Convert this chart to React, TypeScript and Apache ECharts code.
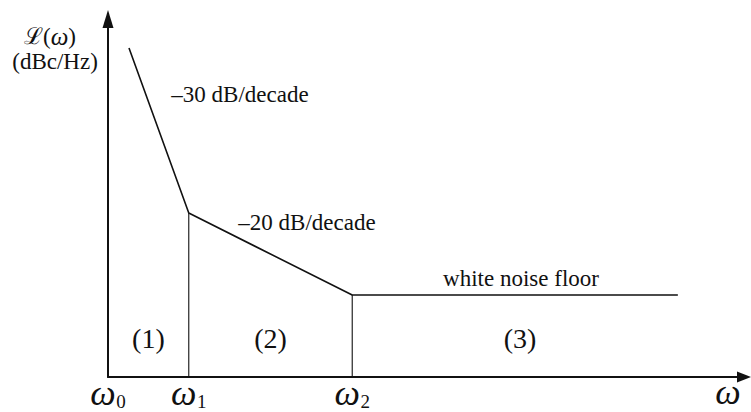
import React, { useEffect, useRef } from "react";
import * as echarts from "echarts";

// Piecewise phase-noise asymptote (arbitrary log-frequency / dB units)
const cornerX = [3.3, 12.7, 38.4, 89.6];
const levelY = [91.9, 45.8, 22.9, 22.9];

// Corner frequencies marked on the frequency axis
const tickValues = [0, 12.7, 38.4];
const tickSubs = ["0", "1", "2"];

// Region and slope annotations
const regionNames = ["(1)", "(2)", "(3)"];
const regionBounds = [0, 12.7, 38.4, 91.2];
const slopeNames = ["–30 dB/decade", "–20 dB/decade", "white noise floor"];

const SERIF = "'Liberation Serif', 'Times New Roman', serif";
const INK = "#111";

export default function App() {
  const ref = useRef<HTMLDivElement>(null);

  useEffect(() => {
    document.body.style.margin = "0";
    if (!ref.current) return;
    const chart = echarts.init(ref.current, undefined, { renderer: "svg" });

    const curve = cornerX.map((x, i) => [x, levelY[i]]);
    const drop1 = [
      [cornerX[1], 0],
      [cornerX[1], levelY[1]],
    ];
    const drop2 = [
      [cornerX[2], 0],
      [cornerX[2], levelY[2]],
    ];

    chart.setOption({
      animation: false,
      backgroundColor: "#fff",
      grid: { left: 108, right: 7, top: 19, bottom: 35, outerBoundsMode: "none" },
      xAxis: {
        type: "value",
        min: 0,
        max: 100,
        axisLine: {
          show: true,
          symbol: ["none", "triangle"],
          symbolSize: [11, 14],
          lineStyle: { color: INK, width: 2 },
        },
        axisTick: { show: false },
        splitLine: { show: false },
        axisLabel: { show: false },
      },
      yAxis: {
        type: "value",
        min: 0,
        max: 100,
        axisLine: {
          show: true,
          symbol: ["none", "triangle"],
          symbolSize: [11, 18],
          lineStyle: { color: INK, width: 2 },
        },
        axisTick: { show: false },
        axisLabel: { show: false },
        splitLine: { show: false },
      },
      series: [
        {
          type: "line",
          data: curve,
          symbol: "none",
          lineStyle: { color: INK, width: 1.6 },
          z: 3,
        },
        {
          type: "line",
          data: drop1,
          symbol: "none",
          lineStyle: { color: INK, width: 1.1 },
        },
        {
          type: "line",
          data: drop2,
          symbol: "none",
          lineStyle: { color: INK, width: 1.1 },
        },
      ],
    });

    const toX = (v: number) => chart.convertToPixel({ xAxisIndex: 0 }, v) as number;

    const txt = (text: string, x: number, y: number, size = 23, italic = false) => ({
      type: "text",
      x,
      y,
      style: {
        text,
        fill: INK,
        font: `${italic ? "italic " : ""}${size}px ${SERIF}`,
        align: "center",
        verticalAlign: "middle",
      },
    });

    const graphics: any[] = [
      {
        type: "text",
        x: 50,
        y: 36,
        style: {
          text: "{l|ℒ}{p|(}{w|ω}{p|)}",
          align: "center",
          verticalAlign: "middle",
          rich: {
            l: { fontFamily: SERIF, fontSize: 23, fill: INK },
            p: { fontFamily: SERIF, fontSize: 23, fill: INK },
            w: { fontFamily: SERIF, fontSize: 25, fontStyle: "italic", fill: INK },
          },
        },
      },
      txt("(dBc/Hz)", 55, 61, 23),
      txt(slopeNames[0], 240, 94),
      txt(slopeNames[1], 307, 222),
      txt(slopeNames[2], 521, 278),
      txt("ω", 728, 392, 36, true),
    ];

    // Corner-frequency labels ω0, ω1, ω2 under the axis
    tickValues.forEach((v, i) => {
      const px = toX(v);
      graphics.push(txt("ω", px - 5, 393, 36, true));
      graphics.push(txt(tickSubs[i], px + 13, 401, 19));
    });

    // Region numbers centred between the corner frequencies
    regionNames.forEach((name, i) => {
      const mid = (toX(regionBounds[i]) + toX(regionBounds[i + 1])) / 2;
      graphics.push(txt(name, mid, 338, 28));
    });

    chart.setOption({ graphic: graphics });

    return () => chart.dispose();
  }, []);

  return <div ref={ref} style={{ width: 751, height: 412 }} />;
}
